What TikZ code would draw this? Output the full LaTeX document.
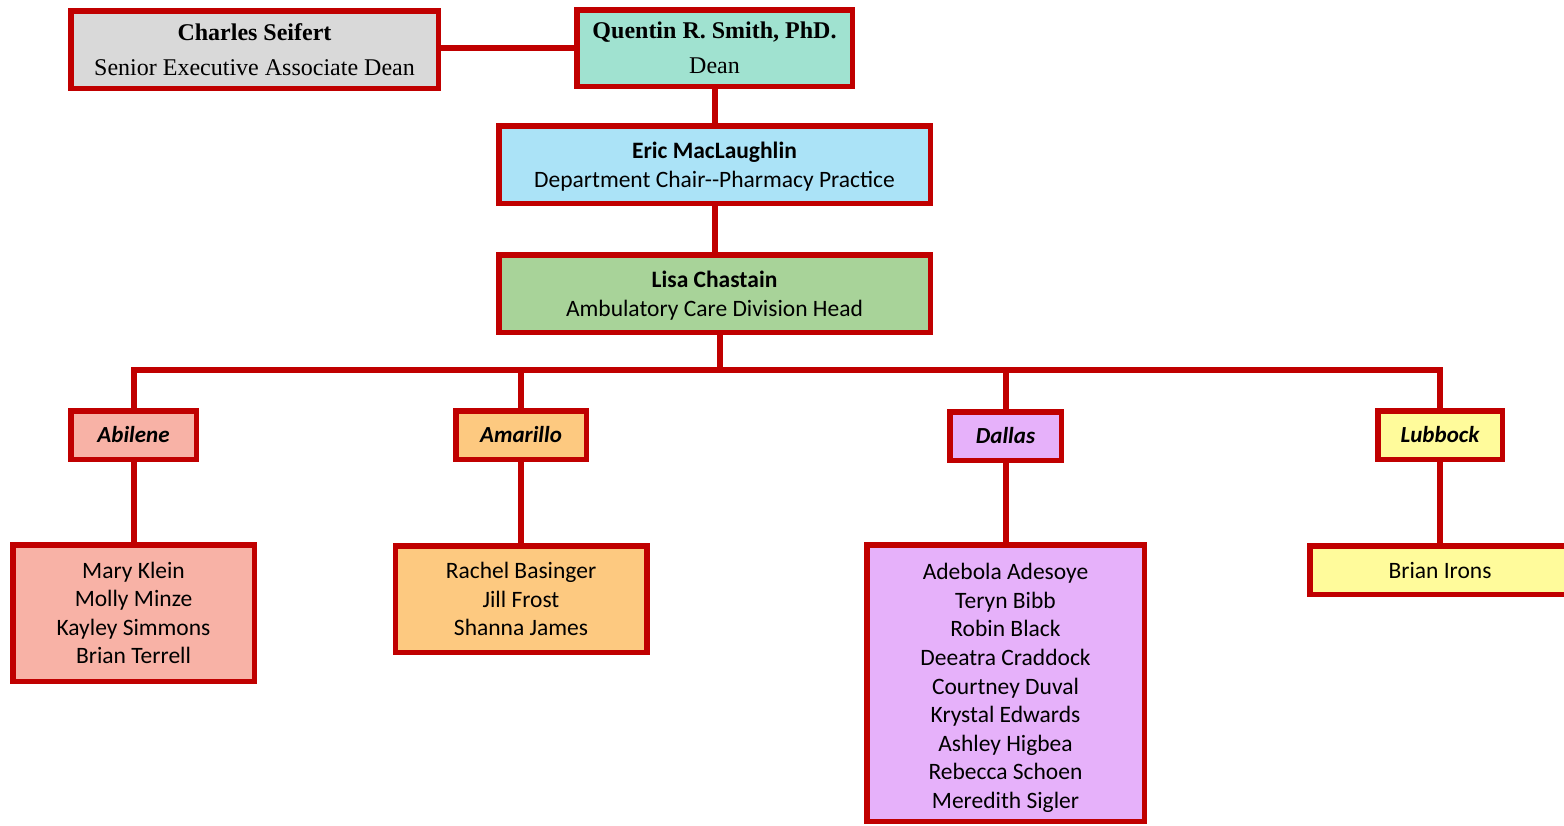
\documentclass[tikz,border=0pt]{standalone}
\usepackage{fontspec}
\setmainfont{Carlito}
\newfontfamily\timesf{Liberation Serif}
\usetikzlibrary{backgrounds}
\definecolor{bred}{HTML}{C00000}
\definecolor{cgray}{HTML}{D9D9D9}
\definecolor{cteal}{HTML}{A0E2D0}
\definecolor{cblue}{HTML}{ABE3F7}
\definecolor{cgreen}{HTML}{A8D399}
\definecolor{csalmon}{HTML}{F8B2A6}
\definecolor{corange}{HTML}{FDC980}
\definecolor{cviolet}{HTML}{E6B1FA}
\definecolor{cyellow}{HTML}{FFFB9B}
\tikzset{
  orgbox/.style={draw=bred, line width=5.5pt, rectangle, inner sep=0pt, outer sep=0pt, align=center, text=black},
  serifbox/.style={orgbox, font=\timesf\fontsize{24}{35}\selectfont},
  sansbox/.style={orgbox, font=\fontsize{23.5}{28.6}\selectfont},
  locbox/.style={orgbox, font=\fontsize{23}{28.4}\selectfont\bfseries\itshape},
  plaintext/.style={align=center, inner sep=0pt, text=black, font=\fontsize{23.5}{28.6}\selectfont},
  link/.style={draw=bred, line width=6pt}
}
\begin{document}
\begin{tikzpicture}[x=1pt, y=-1pt]
\useasboundingbox (0,0) rectangle (1564,825);
\clip (0,0) rectangle (1564,825);
\node[serifbox, fill=cgray, minimum width=367.5pt, minimum height=77.5pt] (charles) at (254.5,49.5)
  {\textbf{Charles Seifert}\\Senior Executive Associate Dean};
\node[serifbox, fill=cteal, minimum width=275.5pt, minimum height=76.5pt] (quentin) at (714.5,48)
  {\textbf{Quentin R. Smith, PhD.}\\Dean};
\node[sansbox, fill=cblue, minimum width=431.5pt, minimum height=77.5pt] (eric) at (714.5,164.5)
  {\rule{0pt}{21pt}\textbf{Eric MacLaughlin}\\Department Chair-{}-Pharmacy Practice};
\node[sansbox, fill=cgreen, minimum width=431.5pt, minimum height=77.5pt] (lisa) at (714.5,293.5)
  {\rule{0pt}{21pt}\textbf{Lisa Chastain}\\Ambulatory Care Division Head};
\node[locbox, fill=csalmon, minimum width=125.5pt, minimum height=48.5pt] (abilene) at (133.5,435) {Abilene};
\node[locbox, fill=corange, minimum width=130.5pt, minimum height=48.5pt] (amarillo) at (521,435) {Amarillo};
\node[locbox, fill=cviolet, minimum width=111.5pt, minimum height=48.5pt] (dallas) at (1005.5,436) {Dallas};
\node[locbox, fill=cyellow, minimum width=124.5pt, minimum height=48.5pt] (lubbock) at (1440,435) {Lubbock};
\node[sansbox, fill=csalmon, minimum width=241.5pt, minimum height=136.5pt] (abp) at (133.5,613)
  {Mary Klein\\Molly Minze\\Kayley Simmons\\Brian Terrell};
\node[sansbox, fill=corange, minimum width=251.5pt, minimum height=106.5pt] (amp) at (521,599)
  {Rachel Basinger\\Jill Frost\\Shanna James};
\node[orgbox, fill=cviolet, minimum width=277.5pt, minimum height=276.5pt] (dap) at (1005.5,683) {};
\node[plaintext] (daptext) at (1005.5,688)
  {Adebola Adesoye\\Teryn Bibb\\Robin Black\\Deeatra Craddock\\Courtney Duval\\Krystal Edwards\\Ashley Higbea\\Rebecca Schoen\\Meredith Sigler};
\node[sansbox, fill=cyellow, minimum width=260.5pt, minimum height=48.5pt] (lup) at (1440,570) {Brian Irons};
\coordinate (bus) at (720,369.5);
\begin{scope}[on background layer]
  \draw[link] (quentin.west) -- (quentin.west -| charles.east);
  \draw[link] (quentin.south) -- (eric.north);
  \draw[link] (eric.south) -- (lisa.north);
  \draw[link] (lisa.south -| bus) -- (bus);
  \draw[link] (abilene.north) |- (lubbock.north |- bus) -- (lubbock.north);
  \draw[link] (amarillo.north) -- (amarillo.north |- bus);
  \draw[link] (dallas.north) -- (dallas.north |- bus);
  \draw[link] (abilene.south) -- (abp.north);
  \draw[link] (amarillo.south) -- (amp.north);
  \draw[link] (dallas.south) -- (dap.north);
  \draw[link] (lubbock.south) -- (lup.north);
\end{scope}
\end{tikzpicture}
\end{document}
